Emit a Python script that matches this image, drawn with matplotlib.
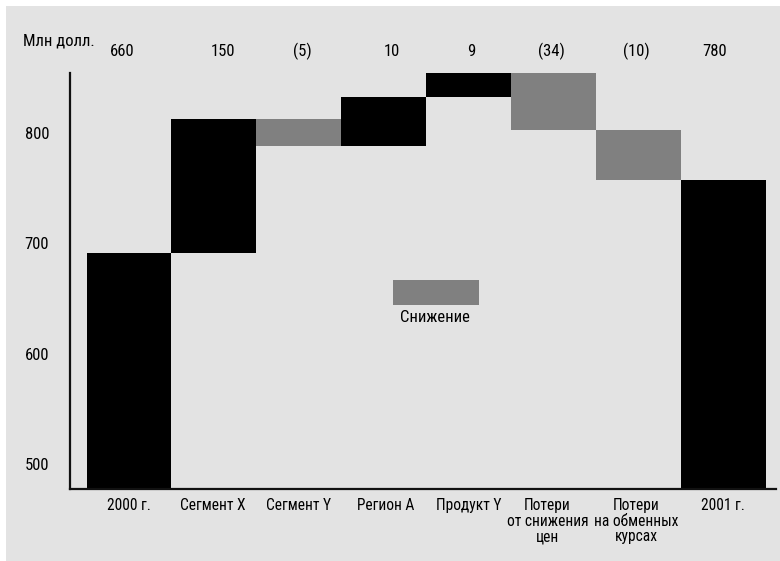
import matplotlib
matplotlib.use("Agg")
import matplotlib.pyplot as plt
import matplotlib.transforms as mtrans
from matplotlib.patches import Rectangle
from matplotlib import font_manager

# ---- data ----
categories = ["2000 г.", "Сегмент X", "Сегмент Y", "Регион А", "Продукт Y",
              "Потери\nот снижения\nцен", "Потери\nна обменных\nкурсах", "2001 г."]
value_labels = ["660", "150", "(5)", "10", "9", "(34)", "(10)", "780"]
start_total = 691          # drawn height of the 2000 bar
deltas = [121, -24, 44, 22, -52, -45]   # drawn step sizes
end_total = 757            # drawn height of the 2001 bar
y_ticks = [500, 600, 700, 800]
unit_label = "Млн долл."
legend_label = "Снижение"

installed = {f.name for f in font_manager.fontManager.ttflist}
main_font = "DejaVu Sans"
for cand in ["Liberation Sans Narrow", "Roboto Condensed", "Open Sans Condensed",
             "Arial Narrow", "Liberation Sans", "Roboto"]:
    if cand in installed:
        main_font = cand
        break
plt.rcParams['font.family'] = [main_font, 'DejaVu Sans']
FS = 12
FSX = 11.2

W, H = 780, 561
fig = plt.figure(figsize=(W / 100, H / 100), dpi=100)
fig.patch.set_facecolor("white")
bg = "#e3e3e3"
fig.patches.append(Rectangle((6 / W, 0), 1, (H - 6) / H, transform=fig.transFigure,
                             facecolor=bg, edgecolor="none", zorder=-10))

ax = fig.add_axes([70 / W, (H - 489) / H, (776 - 70) / W, (489 - 73) / H])
ax.patch.set_alpha(0)
ymin, ymax = 477.5, 854
ax.set_ylim(ymin, ymax)
ax.set_xlim(-0.695, 7.62)

black, grey = "#000000", "#808080"
ax.bar(0, start_total - ymin, bottom=ymin, width=1.0, color=black, linewidth=0)
level = start_total
for i, d in enumerate(deltas, start=1):
    lo = min(level, level + d)
    ax.bar(i, abs(d), bottom=lo, width=1.0, color=black if d > 0 else grey, linewidth=0)
    level += d
ax.bar(7, end_total - ymin, bottom=ymin, width=1.0, color=black, linewidth=0)

for s in ["top", "right"]:
    ax.spines[s].set_visible(False)
for s in ["left", "bottom"]:
    ax.spines[s].set_linewidth(1.6)
    ax.spines[s].set_color("#111111")

ax.set_yticks(y_ticks)
ax.set_yticklabels([str(t) for t in y_ticks], fontsize=FS)
ax.tick_params(axis="y", length=0, pad=15)
ax.set_xticks([])

# category labels (small horizontal nudges in pixels to match the reference)
x_nudge_px = [0, -1, 0, 2, 0, -6, -2, 0]
xtrans = mtrans.blended_transform_factory(ax.transData, ax.transAxes)
for i, lab in enumerate(categories):
    off = mtrans.ScaledTranslation(x_nudge_px[i] / 100, -9 / 100, fig.dpi_scale_trans)
    ax.text(i, 0, lab, transform=xtrans + off, ha="center", va="top",
            fontsize=FSX, linespacing=1.05, multialignment="center")

# value labels along the top (nudged like in the reference)
v_nudge_px = [-7, 9, 4, 8, 3, -2, -2, -9]
vtrans = mtrans.blended_transform_factory(ax.transData, fig.transFigure)
for i, lab in enumerate(value_labels):
    off = mtrans.ScaledTranslation(v_nudge_px[i] / 100, 0, fig.dpi_scale_trans)
    ax.text(i, (H - 51) / H, lab, transform=vtrans + off, ha="center", va="center", fontsize=FS)

fig.text(23 / W, (H - 41) / H, unit_label, ha="left", va="center", fontsize=FS)

# legend
ax.add_patch(Rectangle(((393 - 70) / 706, (489 - 305) / 416), (479 - 393) / 706, 25 / 416,
                       transform=ax.transAxes, facecolor=grey, edgecolor="none"))
ax.text((435 - 70) / 706, (489 - 318) / 416, legend_label, transform=ax.transAxes,
        ha="center", va="center", fontsize=FS)

fig.savefig("out.png", dpi=100)
